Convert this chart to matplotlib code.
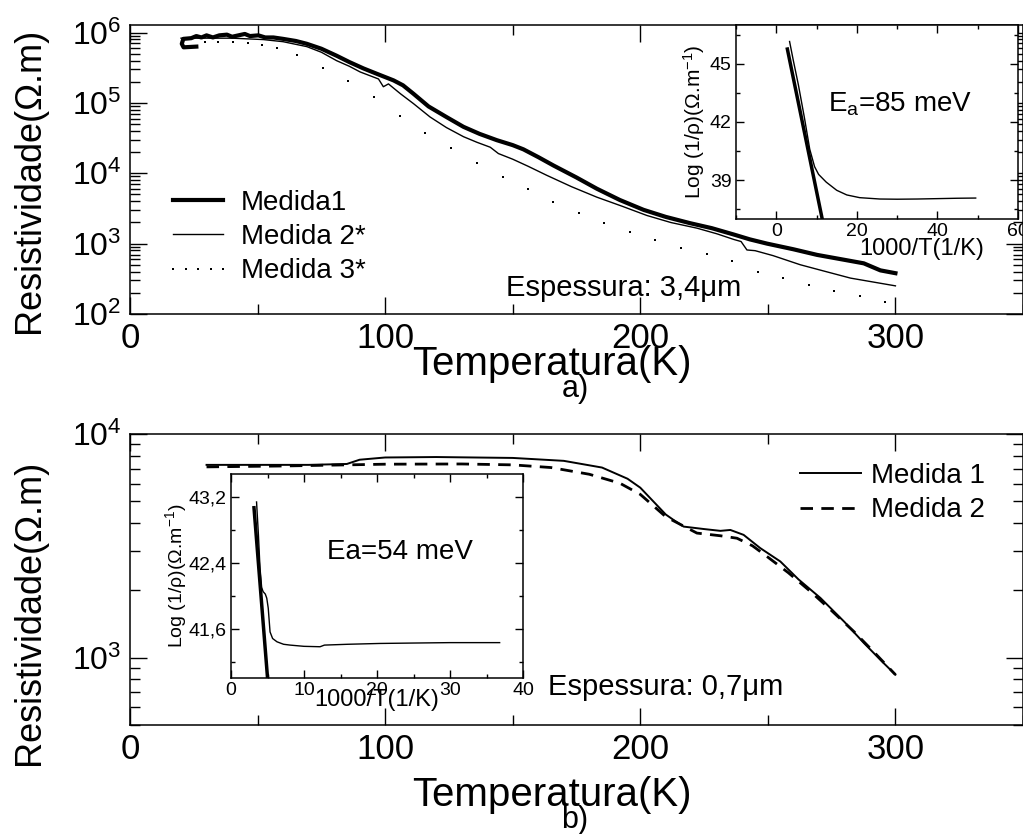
import numpy as np
import matplotlib
matplotlib.use('Agg')
from matplotlib import pyplot as plt
from matplotlib.ticker import LogLocator, NullFormatter, MultipleLocator, FuncFormatter, LogFormatterMathtext

plt.rcParams['font.family'] = ['Liberation Sans', 'DejaVu Sans']
plt.rcParams['mathtext.fontset'] = 'custom'
plt.rcParams['mathtext.rm'] = 'Liberation Sans'
plt.rcParams['mathtext.it'] = 'Liberation Sans:italic'
plt.rcParams['mathtext.bf'] = 'Liberation Sans:bold'

# ---- a) thick film (3,4 um), log10 of resistivity
t_m1 = [26.0, 21.0, 20.3, 20.9, 24.0, 26.0, 28.0, 30.0, 32.5, 35.0, 38.0, 40.0, 42.5, 45.0, 47.0,
        50.3, 53.0, 56.2, 60.0, 65.0, 69.3, 75.0, 81.0, 86.0, 91.5, 97.0, 103.3, 107.0, 111.1,
        117.0, 124.0, 130.7, 137.0, 143.8, 150.0, 154.2, 160.0, 166.0, 175.0, 183.0, 192.0,
        201.3, 210.0, 219.6, 228.0, 236.6, 243.0, 249.7, 260.0, 269.3, 280.0, 287.6, 294.1, 300.0]
log_m1 = [5.80, 5.79, 5.84, 5.91, 5.92, 5.95, 5.93, 5.96, 5.93, 5.96, 5.97, 5.94, 5.96, 5.98, 5.95,
          5.96, 5.93, 5.93, 5.91, 5.88, 5.84, 5.77, 5.67, 5.58, 5.49, 5.41, 5.32, 5.25, 5.13,
          4.95, 4.80, 4.66, 4.56, 4.47, 4.40, 4.34, 4.23, 4.11, 3.94, 3.78, 3.62,
          3.48, 3.38, 3.29, 3.22, 3.13, 3.06, 3.00, 2.92, 2.84, 2.77, 2.72, 2.62, 2.58]

t_m2 = [20.0, 30.0, 40.0, 52.3, 60.0, 69.3, 75.0, 81.0, 86.0, 90.2, 97.4, 99.3, 101.3, 106.0,
        111.1, 117.6, 124.0, 130.7, 136.0, 141.2, 144.4, 150.0, 156.0, 163.4, 173.0, 183.0,
        193.0, 202.6, 212.0, 222.2, 230.0, 236.6, 239.5, 241.8, 245.0, 252.0, 262.7, 272.0,
        282.4, 292.0, 300.0]
log_m2 = [5.92, 5.92, 5.92, 5.90, 5.87, 5.80, 5.72, 5.60, 5.52, 5.44, 5.34, 5.23, 5.27, 5.13,
          4.99, 4.80, 4.65, 4.52, 4.44, 4.37, 4.28, 4.20, 4.10, 3.97, 3.81, 3.66,
          3.53, 3.40, 3.30, 3.22, 3.14, 3.06, 3.03, 2.91, 2.90, 2.83, 2.70, 2.61,
          2.51, 2.45, 2.40]

t_m3 = [29.4, 34.6, 40.5, 46.4, 51.6, 57.5, 65.4, 75.6, 85.6, 95.7, 105.8, 115.7, 125.8, 136.0,
        146.0, 155.8, 165.8, 175.8, 185.9, 195.8, 205.9, 216.0, 226.0, 235.9, 246.0, 256.0,
        266.0, 276.1, 286.0, 296.1]
log_m3 = [5.87, 5.87, 5.87, 5.85, 5.83, 5.78, 5.68, 5.50, 5.31, 5.09, 4.82, 4.57, 4.36, 4.14,
          3.94, 3.77, 3.59, 3.44, 3.30, 3.17, 3.05, 2.94, 2.85, 2.76, 2.60, 2.51,
          2.41, 2.33, 2.25, 2.17]

# inset a): Log(1/rho) vs 1000/T
inv_a = [3.3, 4.2, 5.5, 7.0, 8.3, 9.5, 10.5, 12.4, 15.0, 17.5, 20.7, 25.7, 30.0, 35.0, 40.0, 45.0, 49.5]
cond_a = [46.15, 45.2, 43.9, 42.2, 40.6, 39.7, 39.3, 38.9, 38.48, 38.24, 38.1, 38.03, 38.02, 38.03,
          38.05, 38.07, 38.08]
fit_a_x = [2.75, 11.6]
fit_a_y = [45.76, 36.8]

# ---- b) thin film (0,7 um)
t_b1 = [30, 50, 70, 85, 90, 100, 120, 150, 170, 185, 195, 200, 205, 210, 213, 217, 225, 231.4,
        235.3, 240.5, 247, 254.9, 262, 270.6, 280, 287.6, 295, 300]
log_b1 = [3.862, 3.862, 3.862, 3.866, 3.885, 3.895, 3.897, 3.893, 3.88, 3.85, 3.80, 3.76, 3.70,
          3.64, 3.616, 3.586, 3.575, 3.567, 3.571, 3.549, 3.49, 3.43, 3.35, 3.267, 3.16, 3.066,
          2.98, 2.924]
t_b2 = [30, 60, 85, 100, 130, 150, 165, 180, 192, 200, 205, 210, 215, 222.2, 231.4, 237.9, 244,
        249.7, 258, 266.7, 275, 283.7, 292, 300]
log_b2 = [3.853, 3.857, 3.862, 3.865, 3.866, 3.862, 3.85, 3.82, 3.78, 3.73, 3.68, 3.63, 3.60,
          3.557, 3.545, 3.534, 3.50, 3.452, 3.38, 3.296, 3.21, 3.117, 3.02, 2.924]

inv_b = [3.5, 3.75, 3.97, 4.2, 4.4, 4.7, 4.9, 5.1, 5.35, 5.7, 6.3, 7.2, 8.1, 10.0, 12.2, 12.8,
         16.0, 20.4, 25.0, 30.0, 36.8]
cond_b = [43.14, 42.75, 42.34, 42.1, 42.05, 42.02, 41.97, 41.85, 41.56, 41.48, 41.44, 41.41,
          41.40, 41.385, 41.38, 41.40, 41.41, 41.42, 41.425, 41.43, 41.43]
fit_b_x = [3.15, 5.05]
fit_b_y = [43.07, 40.95]

W, H = 1023, 834
fig = plt.figure(figsize=(W / 100, H / 100), dpi=100)


def box(left, top, right, bottom):
    return [left / W, 1 - bottom / H, (right - left) / W, (bottom - top) / H]


def style(ax, major, minor):
    ax.tick_params(which='both', direction='in', top=True, right=True, width=1)
    ax.tick_params(which='major', length=major)
    ax.tick_params(which='minor', length=minor)
    for s in ax.spines.values():
        s.set_linewidth(1.1)


# ---------------- panel a
ax1 = fig.add_axes(box(130, 25, 1023, 314))
ax1.plot(t_m1, 10 ** np.array(log_m1), color='black', lw=3.0, label='Medida1')
ax1.plot(t_m2, 10 ** np.array(log_m2), color='black', lw=1.0, label='Medida 2*')
ax1.plot(t_m3, 10 ** np.array(log_m3), color='black', ls='none', marker='s', ms=1.8,
         mew=0, label='Medida 3*')
ax1.set_yscale('log')
ax1.set_xlim(0, 350)
ax1.set_ylim(1e2, 1.28e6)
ax1.xaxis.set_major_locator(MultipleLocator(100))
ax1.xaxis.set_minor_locator(MultipleLocator(50))
ax1.yaxis.set_major_locator(LogLocator(base=10, numticks=10))
ax1.yaxis.set_minor_locator(LogLocator(base=10, subs=np.arange(2, 10), numticks=20))
ax1.yaxis.set_major_formatter(LogFormatterMathtext())
ax1.yaxis.set_minor_formatter(NullFormatter())
ax1.tick_params(axis='x', labelsize=25, pad=6)
ax1.tick_params(axis='y', labelsize=23, pad=6)
style(ax1, 12, 7)
ax1.legend(loc='upper left', bbox_to_anchor=(0.039, 0.43), frameon=False, fontsize=20,
           handlelength=2.4, handletextpad=0.35, labelspacing=0.3, numpoints=5,
           borderaxespad=0, borderpad=0)
ax1.text(0.553, 0.09, 'Espessura: 3,4μm', transform=ax1.transAxes, fontsize=21,
         ha='center', va='center')

ins1 = fig.add_axes(box(736, 25, 1018, 219))
ins1.plot(inv_a, cond_a, color='black', lw=1.0)
ins1.plot(fit_a_x, fit_a_y, color='black', lw=2.5)
ins1.set_xlim(-10, 60)
ins1.set_ylim(37, 47)
ins1.xaxis.set_major_locator(MultipleLocator(20))
ins1.xaxis.set_minor_locator(MultipleLocator(10))
ins1.set_yticks([39, 42, 45])
ins1.yaxis.set_minor_locator(MultipleLocator(1.5))
ins1.tick_params(axis='x', labelsize=14, pad=3)
ins1.tick_params(axis='y', labelsize=14, pad=3)
style(ins1, 6, 3)
ins1.set_ylabel('Log (1/ρ)(Ω.m$^{-1}$)', fontsize=15, labelpad=2)
ins1.set_xlabel('1000/T(1/K)', fontsize=17)
ins1.xaxis.set_label_coords(0.66, -0.1)
ins1.text(0.58, 0.59, 'E$_\\mathregular{a}$=85 meV', transform=ins1.transAxes, fontsize=20,
          ha='center', va='center')

# ---------------- panel b
ax2 = fig.add_axes(box(130, 434, 1023, 725))
ax2.plot(t_b1, 10 ** np.array(log_b1), color='black', lw=1.4, label='Medida 1')
ax2.plot(t_b2, 10 ** np.array(log_b2), color='black', lw=2.0, ls=(0, (4.5, 3)), label='Medida 2')
ax2.set_yscale('log')
ax2.set_xlim(0, 350)
ax2.set_ylim(5e2, 1e4)
ax2.xaxis.set_major_locator(MultipleLocator(100))
ax2.xaxis.set_minor_locator(MultipleLocator(50))
ax2.yaxis.set_major_locator(LogLocator(base=10, numticks=10))
ax2.yaxis.set_minor_locator(LogLocator(base=10, subs=np.arange(2, 10), numticks=20))
ax2.yaxis.set_major_formatter(LogFormatterMathtext())
ax2.yaxis.set_minor_formatter(NullFormatter())
ax2.tick_params(axis='x', labelsize=25, pad=6)
ax2.tick_params(axis='y', labelsize=23, pad=6)
style(ax2, 12, 7)
ax2.legend(loc='upper left', bbox_to_anchor=(0.75, 0.90), frameon=False, fontsize=20,
           handlelength=2.2, handletextpad=0.35, labelspacing=0.3, borderaxespad=0,
           borderpad=0)
ax2.text(0.6, 0.13, 'Espessura: 0,7μm', transform=ax2.transAxes, fontsize=21,
         ha='center', va='center')

ins2 = fig.add_axes(box(231, 474, 523, 678))
ins2.plot(inv_b, cond_b, color='black', lw=1.0)
ins2.plot(fit_b_x, fit_b_y, color='black', lw=2.5)
ins2.set_xlim(0, 40)
ins2.set_ylim(41.0, 43.48)
ins2.xaxis.set_major_locator(MultipleLocator(10))
ins2.xaxis.set_minor_locator(MultipleLocator(5))
ins2.set_yticks([41.6, 42.4, 43.2])
ins2.yaxis.set_minor_locator(MultipleLocator(0.4))
ins2.yaxis.set_major_formatter(FuncFormatter(lambda v, p: f'{v:.1f}'.replace('.', ',')))
ins2.tick_params(axis='both', labelsize=14, pad=3)
style(ins2, 6, 3)
ins2.set_ylabel('Log (1/ρ)(Ω.m$^{-1}$)', fontsize=14, labelpad=0)
ins2.set_xlabel('1000/T(1/K)', fontsize=17, labelpad=-7)
ins2.text(0.58, 0.62, 'Ea=54 meV', transform=ins2.transAxes, fontsize=20,
          ha='center', va='center')

# axis titles
fig.text(30 / W, 1 - 180 / H, 'Resistividade(Ω.m)', rotation=90, fontsize=26, ha='center', va='center')
fig.text(30 / W, 1 - 612 / H, 'Resistividade(Ω.m)', rotation=90, fontsize=26, ha='center', va='center')
fig.text(552 / W, 1 - 364 / H, 'Temperatura(K)', fontsize=29, ha='center', va='center')
fig.text(575 / W, 1 - 389 / H, 'a)', fontsize=22, ha='center', va='center')
fig.text(552 / W, 1 - 795 / H, 'Temperatura(K)', fontsize=29, ha='center', va='center')
fig.text(575 / W, 1 - 820 / H, 'b)', fontsize=22, ha='center', va='center')

plt.savefig('out.png', dpi=100)
plt.close()
